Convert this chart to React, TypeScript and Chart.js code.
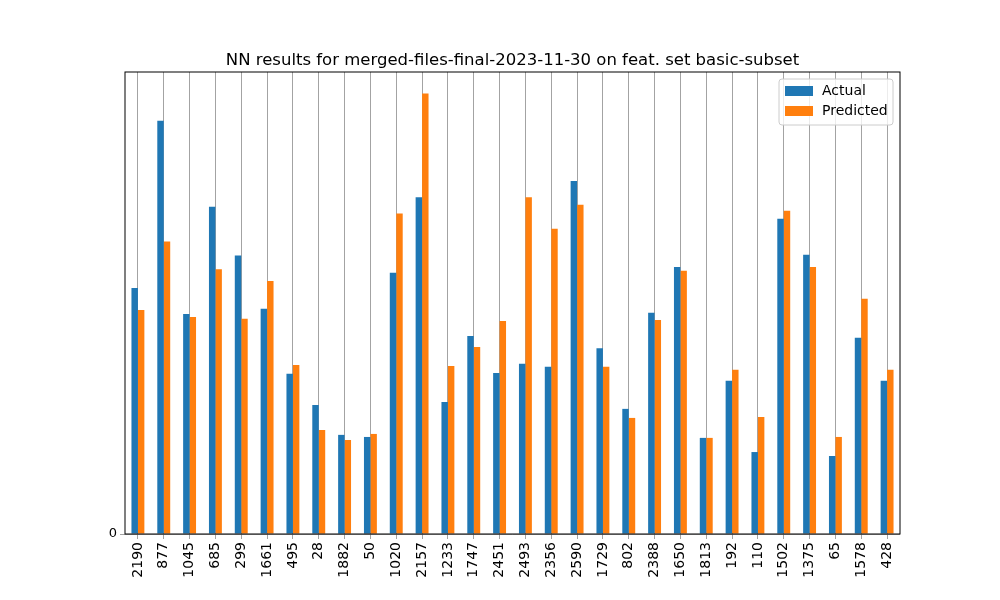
import React, { useEffect, useRef } from "react";
import { Chart, registerables } from "chart.js";

Chart.register(...registerables);

const ids = ["2190","877","1045","685","299","1661","495","28","1882","50","1020","2157","1233","1747","2451","2493","2356","2590","1729","802","2388","1650","1813","192","110","1502","1375","65","1578","428"];
const actual = [106000,178000,94800,141000,120000,97000,69000,55600,42700,41800,112500,145000,56900,85300,69400,73300,72000,152000,80000,53900,95300,115000,41400,66000,35300,135800,120300,33600,84500,66000];
const predicted = [96500,126000,93500,114000,92700,109000,72800,44800,40500,43100,138000,189700,72400,80600,91800,145000,131500,141800,72000,50000,92200,113400,41400,70700,50400,139200,115000,41800,101300,70700];
const chartTitle = "NN results for merged-files-final-2023-11-30 on feat. set basic-subset";
const seriesNames = ["Actual", "Predicted"];
const colors = ["#1f77b4", "#ff7f0e"];

const FONT = "'DejaVu Sans', sans-serif";

const decor = {
  id: "decor",
  afterDraw(chart: any) {
    const { ctx, chartArea: a } = chart;
    ctx.save();
    ctx.strokeStyle = "#000";
    ctx.lineWidth = 1;
    ctx.strokeRect(a.left, a.top, a.right - a.left, a.bottom - a.top);
    ctx.fillStyle = "#000";
    ctx.font = "16.5px " + FONT;
    ctx.textAlign = "center";
    ctx.textBaseline = "alphabetic";
    ctx.fillText(chartTitle, (a.left + a.right) / 2, 65);
    // legend
    const lx = 779, ly = 79, lw = 114, lh = 46;
    ctx.fillStyle = "rgba(255,255,255,0.8)";
    ctx.strokeStyle = "#cccccc";
    ctx.beginPath();
    ctx.roundRect(lx, ly, lw, lh, 3);
    ctx.fill();
    ctx.stroke();
    ctx.font = "14px " + FONT;
    ctx.textAlign = "left";
    ctx.textBaseline = "middle";
    seriesNames.forEach((n, i) => {
      const y = ly + 12 + i * 20;
      ctx.fillStyle = colors[i];
      ctx.fillRect(lx + 6, y - 5, 28, 10);
      ctx.fillStyle = "#000";
      ctx.fillText(n, lx + 43, y);
    });
    ctx.restore();
  },
};

export default function App() {
  const ref = useRef<HTMLCanvasElement | null>(null);
  useEffect(() => {
    if (!ref.current) return;
    const chart = new Chart(ref.current, {
      type: "bar",
      data: {
        labels: ids,
        datasets: seriesNames.map((n, i) => ({
          label: n,
          data: i === 0 ? actual : predicted,
          backgroundColor: colors[i],
          categoryPercentage: 0.5,
          barPercentage: 1.0,
        })),
      },
      options: {
        responsive: false,
        animation: false,
        layout: { padding: { top: 72, right: 100, left: 0, bottom: 0 } },
        plugins: { legend: { display: false }, title: { display: false }, tooltip: { enabled: false } },
        scales: {
          x: {
            grid: { color: "#8c8c8c", lineWidth: 0.8, offset: false, tickLength: 5 },
            border: { display: false },
            ticks: { color: "#000", font: { family: FONT, size: 14 }, maxRotation: 90, minRotation: 90, autoSkip: false },
            afterFit: (s: any) => { s.height = 66; },
          },
          y: {
            min: 0,
            max: 199000,
            grid: { color: "#8c8c8c", lineWidth: 0.8, tickLength: 5 },
            border: { display: false },
            ticks: { color: "#000", font: { family: FONT, size: 13 }, stepSize: 25000 },
            afterBuildTicks: (s: any) => { s.ticks = s.ticks.filter((t: any) => t.value % 25000 === 0); },
            afterFit: (s: any) => { s.width = 125; },
          },
        },
      },
      plugins: [decor],
    });
    return () => chart.destroy();
  }, []);
  return (
    <div style={{ position: "absolute", left: 0, top: 0, width: 1000, height: 600, background: "#fff" }}>
      <canvas ref={ref} width={1000} height={600} />
    </div>
  );
}
